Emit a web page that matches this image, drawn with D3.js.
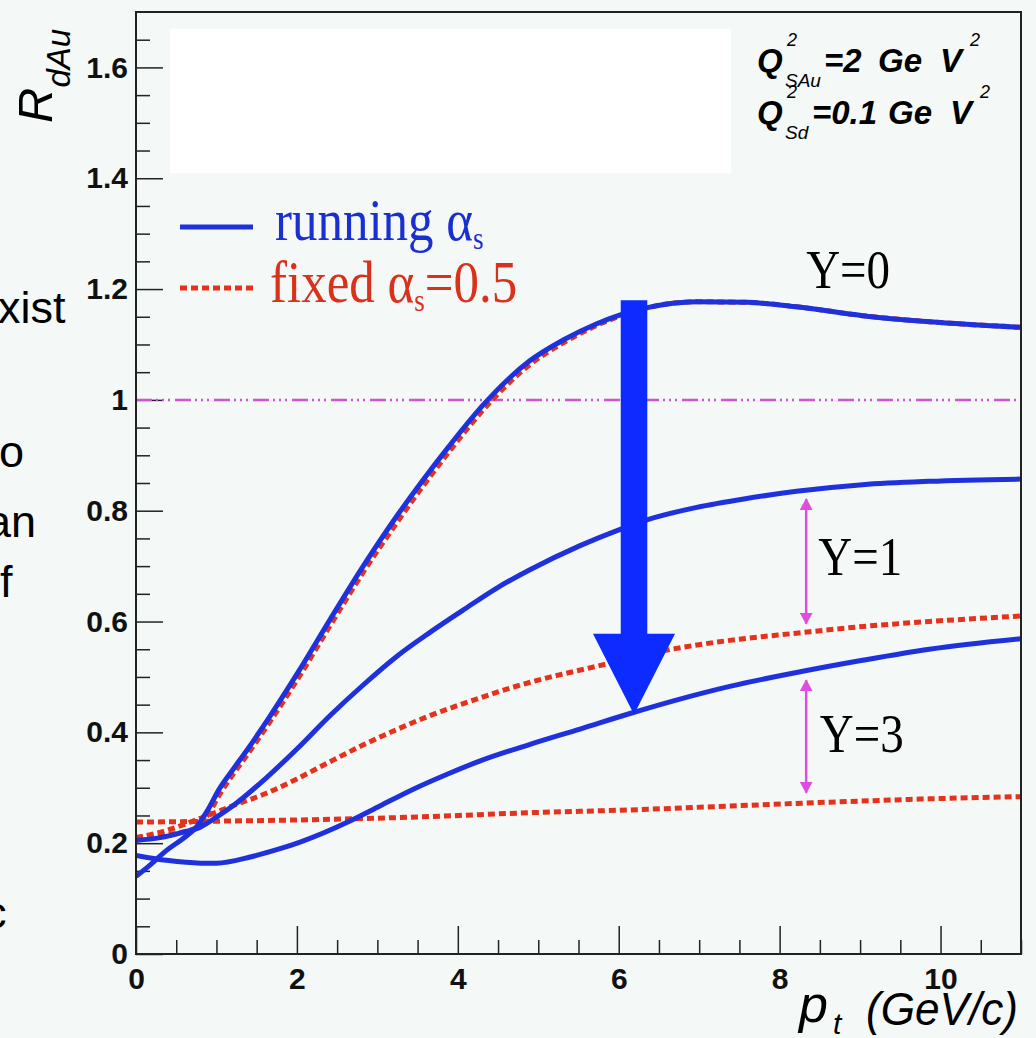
<!DOCTYPE html>
<html>
<head>
<meta charset="utf-8">
<script src="https://cdn.jsdelivr.net/npm/d3@7"></script>
<style>
  html, body { margin: 0; padding: 0; background: #f4f8f7; }
  svg { display: block; }
</style>
</head>
<body>
<svg id="chart" width="1036" height="1038"></svg>
<script>
  "use strict";

  // ---- data (pt in GeV/c, R_dAu) ----
  var ptRunY0 = [0, 0.17, 0.38, 0.59, 0.75, 0.88, 1.04, 1.21, 1.37, 1.66, 2.0, 2.41, 2.82, 3.24, 3.57, 3.90, 4.31, 4.61, 4.89, 5.31, 5.72, 6.01, 6.34, 6.97, 7.59, 8.21, 9.03, 9.86, 11.0];
  var rRunY0  = [0.14, 0.16, 0.187, 0.209, 0.229, 0.257, 0.299, 0.334, 0.366, 0.428, 0.505, 0.603, 0.699, 0.79, 0.856, 0.918, 0.99, 1.035, 1.07, 1.108, 1.137, 1.153, 1.166, 1.177, 1.176, 1.168, 1.152, 1.141, 1.131];

  var ptFixY0 = [0, 0.38, 0.75, 0.88, 1.04, 1.21, 1.37, 1.66, 2.0, 2.41, 2.82, 3.24, 3.57, 3.90, 4.31, 4.61, 4.89, 5.31, 5.72, 6.01, 6.34, 6.97, 7.59, 8.21, 9.03, 9.86, 11.0];
  var rFixY0  = [0.21, 0.215, 0.228, 0.248, 0.288, 0.325, 0.357, 0.418, 0.494, 0.592, 0.688, 0.778, 0.845, 0.908, 0.981, 1.027, 1.063, 1.103, 1.134, 1.151, 1.166, 1.177, 1.176, 1.168, 1.152, 1.141, 1.131];

  var ptRunY1 = [0, 0.30, 0.59, 0.80, 1.0, 1.21, 1.62, 2.0, 2.41, 2.82, 3.24, 3.65, 4.07, 4.48, 4.89, 5.52, 6.01, 6.34, 6.97, 7.59, 8.21, 9.03, 9.86, 11.0];
  var rRunY1  = [0.205, 0.21, 0.22, 0.229, 0.247, 0.268, 0.318, 0.37, 0.43, 0.485, 0.537, 0.58, 0.621, 0.66, 0.693, 0.737, 0.766, 0.783, 0.806, 0.822, 0.835, 0.847, 0.853, 0.857];

  var ptFixY1 = [0, 0.38, 0.8, 1.21, 1.62, 2.0, 2.41, 2.82, 3.24, 3.65, 4.07, 4.48, 4.89, 5.72, 6.55, 7.38, 8.21, 9.03, 9.86, 11.0];
  var rFixY1  = [0.21, 0.223, 0.245, 0.268, 0.29, 0.316, 0.347, 0.377, 0.405, 0.43, 0.452, 0.472, 0.49, 0.519, 0.547, 0.566, 0.579, 0.591, 0.60, 0.61];

  var ptRunY3 = [0, 0.38, 0.8, 1.0, 1.42, 1.79, 2.04, 2.66, 3.03, 3.44, 3.86, 4.27, 4.89, 5.52, 6.14, 6.76, 7.38, 8.21, 9.03, 9.86, 11.0];
  var rRunY3  = [0.178, 0.169, 0.164, 0.164, 0.175, 0.19, 0.202, 0.24, 0.267, 0.297, 0.324, 0.348, 0.378, 0.406, 0.434, 0.46, 0.483, 0.508, 0.53, 0.55, 0.569];

  var ptFixY3 = [0, 1.17, 2.41, 3.65, 4.89, 6.14, 7.38, 8.62, 9.86, 11.0];
  var rFixY3  = [0.238, 0.24, 0.243, 0.248, 0.255, 0.26, 0.267, 0.274, 0.28, 0.284];

  var xTickValues = [0, 2, 4, 6, 8, 10];
  var xTickLabels = ["0", "2", "4", "6", "8", "10"];
  var yTickValues = [0, 0.2, 0.4, 0.6, 0.8, 1.0, 1.2, 1.4, 1.6];
  var yTickLabels = ["0", "0.2", "0.4", "0.6", "0.8", "1", "1.2", "1.4", "1.6"];

  var blue = "#1f30dd";
  var red = "#e5321c";
  var magenta = "#e04ce0";

  var frame = { left: 136, top: 12, right: 1021, bottom: 954 };

  var svg = d3.select("#chart");

  var x = d3.scaleLinear().domain([0, 11]).range([frame.left, frame.right]);
  var y = d3.scaleLinear().domain([0, 1.7]).range([frame.bottom, frame.top]);

  svg.append("rect")
    .attr("width", 1036).attr("height", 1038)
    .attr("fill", "#f4f8f7");

  // bits of slide text cut off at the left edge
  var slideText = [
    { t: "xist", x: -2, y: 323 },
    { t: "o", x: -1, y: 467 },
    { t: "an", x: -14, y: 537 },
    { t: "f", x: 0, y: 597 },
    { t: "c", x: -16, y: 928 }
  ];
  svg.append("g")
    .selectAll("text")
    .data(slideText)
    .enter().append("text")
    .attr("x", function (d) { return d.x; })
    .attr("y", function (d) { return d.y; })
    .style("font-family", "'Liberation Sans', Arial, sans-serif")
    .style("font-size", "45px")
    .attr("fill", "#000")
    .text(function (d) { return d.t; });

  // white box inside the frame (top left)
  svg.append("rect")
    .attr("x", x(0.42))
    .attr("y", y(1.67))
    .attr("width", x(7.40) - x(0.42))
    .attr("height", y(1.409) - y(1.67))
    .attr("fill", "#ffffff");

  // axes: ROOT style ticks pointing inward
  var sans = "'Liberation Sans', Arial, sans-serif";

  function styleAxis(g) {
    g.select(".domain").remove();
    g.selectAll(".tick line").attr("stroke", "#222").attr("stroke-width", 1.5);
    g.selectAll(".tick text")
      .attr("fill", "#111")
      .style("font-family", sans)
      .style("font-size", "30px")
      .style("font-weight", "bold");
  }

  var xMinor = d3.range(0, 11.01, 0.5).filter(function (v) { return v % 2 !== 0; });
  var yMinor = d3.range(0, 1.66, 0.05).filter(function (v) { return Math.abs(v * 5 - Math.round(v * 5)) > 1e-6; });

  svg.append("g")
    .attr("transform", "translate(0," + frame.bottom + ")")
    .call(d3.axisBottom(x).tickValues(xMinor).tickSize(-14).tickFormat(""))
    .call(styleAxis);

  svg.append("g")
    .attr("transform", "translate(0," + frame.bottom + ")")
    .call(d3.axisBottom(x).tickValues(xTickValues).tickSize(-28).tickPadding(14)
      .tickFormat(function (d, i) { return xTickLabels[i]; }))
    .call(styleAxis);

  svg.append("g")
    .attr("transform", "translate(" + frame.left + ",0)")
    .call(d3.axisLeft(y).tickValues(yMinor).tickSize(-14).tickFormat(""))
    .call(styleAxis);

  svg.append("g")
    .attr("transform", "translate(" + frame.left + ",0)")
    .call(d3.axisLeft(y).tickValues(yTickValues).tickSize(-27).tickPadding(8)
      .tickFormat(function (d, i) { return yTickLabels[i]; }))
    .call(styleAxis);

  // R = 1 reference line
  svg.append("line")
    .attr("x1", x(0)).attr("x2", x(11))
    .attr("y1", y(1)).attr("y2", y(1))
    .attr("stroke", "#cc55d0")
    .attr("stroke-width", 2.5)
    .attr("stroke-dasharray", "16,4,2,4,2,4,2,5");

  // curves
  svg.append("clipPath").attr("id", "plotClip")
    .append("rect")
    .attr("x", frame.left).attr("y", frame.top)
    .attr("width", frame.right - frame.left)
    .attr("height", frame.bottom - frame.top);

  var line = d3.line()
    .x(function (d) { return x(d[0]); })
    .y(function (d) { return y(d[1]); })
    .curve(d3.curveMonotoneX);

  var curves = svg.append("g").attr("clip-path", "url(#plotClip)");

  var fixedCurves = [d3.zip(ptFixY3, rFixY3), d3.zip(ptFixY1, rFixY1), d3.zip(ptFixY0, rFixY0)];
  var runningCurves = [d3.zip(ptRunY3, rRunY3), d3.zip(ptRunY1, rRunY1), d3.zip(ptRunY0, rRunY0)];

  curves.selectAll("path.fixed")
    .data(fixedCurves)
    .enter().append("path")
    .attr("class", "fixed")
    .attr("d", line)
    .attr("fill", "none")
    .attr("stroke", red)
    .attr("stroke-width", 5)
    .attr("stroke-dasharray", "7,4");

  curves.selectAll("path.running")
    .data(runningCurves)
    .enter().append("path")
    .attr("class", "running")
    .attr("d", line)
    .attr("fill", "none")
    .attr("stroke", blue)
    .attr("stroke-width", 5);

  // frame
  svg.append("rect")
    .attr("x", frame.left).attr("y", frame.top)
    .attr("width", frame.right - frame.left)
    .attr("height", frame.bottom - frame.top)
    .attr("fill", "none")
    .attr("stroke", "#222")
    .attr("stroke-width", 2);

  // big blue arrow (annotation, data units)
  var a = { pt: 6.19, from: 1.18, headTop: 0.578, to: 0.432, shaftHalf: 0.165, headHalf: 0.51 };
  svg.append("path")
    .attr("d", "M" + x(a.pt - a.shaftHalf) + "," + y(a.from) +
      "L" + x(a.pt + a.shaftHalf) + "," + y(a.from) +
      "L" + x(a.pt + a.shaftHalf) + "," + y(a.headTop) +
      "L" + x(a.pt + a.headHalf) + "," + y(a.headTop) +
      "L" + x(a.pt) + "," + y(a.to) +
      "L" + x(a.pt - a.headHalf) + "," + y(a.headTop) +
      "L" + x(a.pt - a.shaftHalf) + "," + y(a.headTop) + "Z")
    .attr("fill", "#0d2bff");

  // magenta double arrows
  svg.append("defs").append("marker")
    .attr("id", "mhead")
    .attr("viewBox", "0 0 12 13")
    .attr("refX", 11).attr("refY", 6.5)
    .attr("markerWidth", 12).attr("markerHeight", 13)
    .attr("markerUnits", "userSpaceOnUse")
    .attr("orient", "auto-start-reverse")
    .append("path")
    .attr("d", "M0,0L12,6.5L0,13Z")
    .attr("fill", magenta);

  var spans = [
    { pt: 8.33, top: 0.821, bottom: 0.596 },
    { pt: 8.33, top: 0.494, bottom: 0.291 }
  ];
  svg.selectAll("line.span")
    .data(spans)
    .enter().append("line")
    .attr("class", "span")
    .attr("x1", function (d) { return x(d.pt); })
    .attr("x2", function (d) { return x(d.pt); })
    .attr("y1", function (d) { return y(d.top); })
    .attr("y2", function (d) { return y(d.bottom); })
    .attr("stroke", magenta)
    .attr("stroke-width", 2.5)
    .attr("marker-start", "url(#mhead)")
    .attr("marker-end", "url(#mhead)");

  // rapidity labels
  var serif = "'Liberation Serif', 'Times New Roman', serif";
  var rapLabels = [
    { t: "Y=0", pt: 8.33, r: 1.202 },
    { t: "Y=1", pt: 8.48, r: 0.684 },
    { t: "Y=3", pt: 8.50, r: 0.365 }
  ];
  svg.selectAll("text.rap")
    .data(rapLabels)
    .enter().append("text")
    .attr("class", "rap")
    .attr("transform", function (d) { return "translate(" + x(d.pt) + "," + y(d.r) + ") scale(1,1.18)"; })
    .style("font-family", serif)
    .style("font-size", "47px")
    .attr("fill", "#000")
    .text(function (d) { return d.t; });

  // legend
  var legend = svg.append("g");
  legend.append("line")
    .attr("x1", 180).attr("x2", 253).attr("y1", 227).attr("y2", 227)
    .attr("stroke", blue).attr("stroke-width", 5);
  legend.append("line")
    .attr("x1", 180).attr("x2", 253).attr("y1", 288).attr("y2", 288)
    .attr("stroke", red).attr("stroke-width", 5).attr("stroke-dasharray", "7,4");

  var l1 = legend.append("text")
    .attr("transform", "translate(275,240) scale(1,1.15)")
    .style("font-family", serif).style("font-size", "51px")
    .attr("fill", "#1a2fd0");
  l1.append("tspan").text("running α");
  l1.append("tspan").attr("dy", 8).style("font-size", "27px").text("s");

  var l2 = legend.append("text")
    .attr("transform", "translate(270,302) scale(1,1.15)")
    .style("font-family", serif).style("font-size", "51px")
    .attr("fill", "#d8321c");
  l2.append("tspan").text("fixed α");
  l2.append("tspan").attr("dy", 8).style("font-size", "27px").text("s");
  l2.append("tspan").attr("dy", -8).text("=0.5");

  // saturation scales, top right
  function qLine(base, sub, rest, restX, geX, vX, supX) {
    var g = svg.append("g").attr("fill", "#000")
      .style("font-family", sans).style("font-style", "italic");
    g.append("text").attr("x", 757).attr("y", base)
      .style("font-size", "33px").style("font-weight", "bold").text("Q");
    g.append("text").attr("x", 787).attr("y", base - 26)
      .style("font-size", "18px").text("2");
    g.append("text").attr("x", 785).attr("y", base + 15)
      .style("font-size", "19px").text(sub);
    g.append("text").attr("x", restX).attr("y", base)
      .style("font-size", "33px").style("font-weight", "bold").text(rest);
    g.append("text").attr("x", geX).attr("y", base)
      .style("font-size", "33px").style("font-weight", "bold").text("Ge");
    g.append("text").attr("x", vX).attr("y", base)
      .style("font-size", "33px").style("font-weight", "bold").text("V");
    g.append("text").attr("x", supX).attr("y", base - 26)
      .style("font-size", "18px").text("2");
  }
  qLine(72, "SAu", "=2", 824, 878, 940, 970);
  qLine(124, "Sd", "=0.1", 812, 888, 950, 980);

  // axis titles
  var yt = svg.append("text")
    .attr("transform", "translate(52,123) rotate(-90)")
    .style("font-family", sans).style("font-style", "italic")
    .style("font-size", "49px").attr("fill", "#000");
  yt.append("tspan").text("R");
  yt.append("tspan").attr("dy", 18).style("font-size", "33px").text("dAu");

  var xt = svg.append("g").attr("fill", "#000")
    .style("font-family", sans).style("font-style", "italic");
  xt.append("text").attr("x", 799).attr("y", 1022).style("font-size", "52px").text("p");
  xt.append("text").attr("x", 833).attr("y", 1034).style("font-size", "30px").text("t");
  xt.append("text").attr("x", 866).attr("y", 1025)
    .attr("textLength", 152).attr("lengthAdjust", "spacingAndGlyphs")
    .style("font-size", "46px").text("(GeV/c)");
</script>
</body>
</html>
